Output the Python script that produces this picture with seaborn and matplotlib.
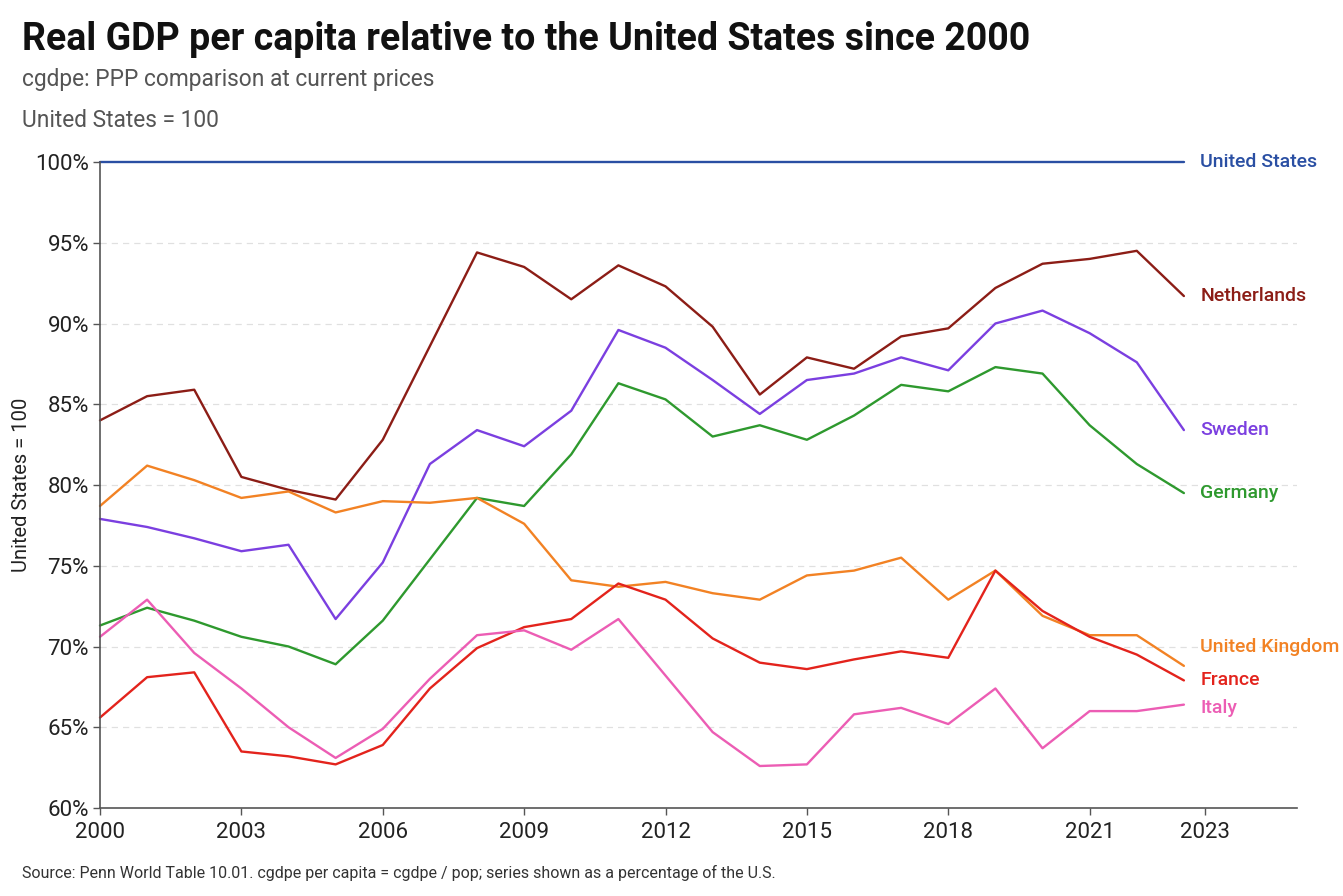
import pandas as pd
import matplotlib
matplotlib.use("Agg")
import matplotlib.pyplot as plt
import seaborn as sns

# values (percent of US level)
years = list(range(2000, 2024))

united_states = [100.0] * 24
netherlands = [84.0, 85.5, 85.9, 80.5, 79.7, 79.1, 82.8, 88.6, 94.4, 93.5, 91.5, 93.6,
               92.3, 89.8, 85.6, 87.9, 87.2, 89.2, 89.7, 92.2, 93.7, 94.0, 94.5, 91.7]
sweden = [77.9, 77.4, 76.7, 75.9, 76.3, 71.7, 75.2, 81.3, 83.4, 82.4, 84.6, 89.6,
          88.5, 86.5, 84.4, 86.5, 86.9, 87.9, 87.1, 90.0, 90.8, 89.4, 87.6, 83.4]
germany = [71.3, 72.4, 71.6, 70.6, 70.0, 68.9, 71.6, 75.4, 79.2, 78.7, 81.9, 86.3,
           85.3, 83.0, 83.7, 82.8, 84.3, 86.2, 85.8, 87.3, 86.9, 83.7, 81.3, 79.5]
united_kingdom = [78.7, 81.2, 80.3, 79.2, 79.6, 78.3, 79.0, 78.9, 79.2, 77.6, 74.1, 73.7,
                  74.0, 73.3, 72.9, 74.4, 74.7, 75.5, 72.9, 74.7, 71.9, 70.7, 70.7, 68.8]
france = [65.6, 68.1, 68.4, 63.5, 63.2, 62.7, 63.9, 67.4, 69.9, 71.2, 71.7, 73.9,
          72.9, 70.5, 69.0, 68.6, 69.2, 69.7, 69.3, 74.7, 72.2, 70.6, 69.5, 67.9]
italy = [70.6, 72.9, 69.6, 67.4, 65.0, 63.1, 64.9, 68.0, 70.7, 71.0, 69.8, 71.7,
         68.2, 64.7, 62.6, 62.7, 65.8, 66.2, 65.2, 67.4, 63.7, 66.0, 66.0, 66.4]

countries = ["United States", "Netherlands", "Sweden", "Germany",
             "United Kingdom", "France", "Italy"]
series = [united_states, netherlands, sweden, germany, united_kingdom, france, italy]

colors = {
    "United States": "#2a4fa3",
    "Netherlands": "#8c1d16",
    "Sweden": "#7b3fe0",
    "Germany": "#2e992e",
    "United Kingdom": "#f28224",
    "France": "#e3231c",
    "Italy": "#ec5db4",
}
# small vertical nudges for the end labels so they don't collide
label_nudge = {"United Kingdom": 1.2, "Italy": -0.2}

x_ticks = [2000, 2003, 2006, 2009, 2012, 2015, 2018, 2021, 2023.45]
x_tick_labels = ["2000", "2003", "2006", "2009", "2012", "2015", "2018", "2021", "2023"]
y_ticks = [60, 65, 70, 75, 80, 85, 90, 95, 100]

df = pd.DataFrame({
    "year": years * len(countries),
    "value": [v for s in series for v in s],
    "country": [c for c in countries for _ in years],
})

sns.set_style("white")
plt.rcParams["font.family"] = ["Roboto", "DejaVu Sans"]

fig = plt.figure(figsize=(13.43, 8.96), dpi=100)
ax = fig.add_axes([100 / 1343, 1 - 808 / 896, 1197 / 1343, 646 / 896])

sns.lineplot(data=df, x="year", y="value", hue="country", palette=colors,
             hue_order=countries, linewidth=1.7, legend=False, ax=ax)
for line in ax.lines:
    line.set_clip_on(False)

ax.set_xlim(2000, 2025.4)
ax.set_ylim(60, 100)
ax.set_xticks(x_ticks)
ax.set_xticklabels(x_tick_labels)
ax.set_yticks(y_ticks)
ax.set_yticklabels([f"{t}%" for t in y_ticks])
ax.tick_params(axis="both", labelsize=16, length=5, width=1, color="#555555",
               labelcolor="#222222", pad=3, direction="out")
ax.tick_params(axis="x", bottom=True, pad=5)
ax.tick_params(axis="y", left=True)

for y in y_ticks[1:-1]:
    ax.axhline(y, color="#e0e0e0", linewidth=0.9, linestyle=(0, (5, 4)), zorder=0)

sns.despine(ax=ax)
for side in ["left", "bottom"]:
    ax.spines[side].set_color("#555555")
    ax.spines[side].set_linewidth(1.2)

ax.set_xlabel("")
ax.set_ylabel("United States = 100", fontsize=14.5, color="#222222")
ax.yaxis.set_label_coords(-0.058, 0.5)

# end-of-line labels
for name, s in zip(countries, series):
    ax.text(2023.35, s[-1] + label_nudge.get(name, 0.0), name, color=colors[name],
            fontsize=14, fontweight="medium", ha="left", va="center", clip_on=False)

fig.text(0.0164, 0.956, "Real GDP per capita relative to the United States since 2000",
         fontsize=27, fontweight="bold", color="#111111", ha="left", va="center")
fig.text(0.0164, 0.911, "cgdpe: PPP comparison at current prices",
         fontsize=16.4, color="#555555", ha="left", va="center")
fig.text(0.0164, 0.866, "United States = 100",
         fontsize=16.4, color="#555555", ha="left", va="center")
fig.text(0.0164, 0.0257,
         "Source: Penn World Table 10.01. cgdpe per capita = cgdpe / pop; "
         "series shown as a percentage of the U.S.",
         fontsize=11.5, color="#333333", ha="left", va="center")

fig.savefig("out.png", dpi=100, facecolor="white")
